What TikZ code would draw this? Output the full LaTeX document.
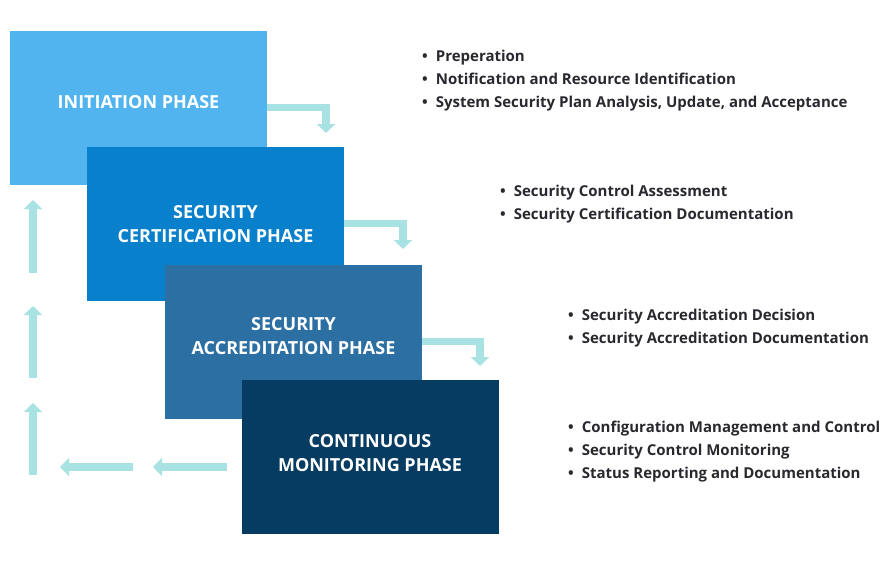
\documentclass[tikz,border=0pt]{standalone}
\usepackage{fontspec}
\setmainfont{Open Sans}
\usepackage{tikz}
\usetikzlibrary{calc}
\usetikzlibrary{positioning}
\usetikzlibrary{arrows.meta}
\definecolor{phaseA}{RGB}{82,180,238}
\definecolor{phaseB}{RGB}{8,128,204}
\definecolor{phaseC}{RGB}{44,111,163}
\definecolor{phaseD}{RGB}{6,60,98}
\definecolor{flowcol}{RGB}{168,226,226}
\definecolor{listcol}{RGB}{40,40,46}
\tikzset{phase/.style={rectangle, minimum width=257pt, minimum height=154pt, inner sep=0pt, text depth=12pt, text=white, align=center, font=\fontsize{18}{24}\selectfont\bfseries}}
\tikzset{items/.style={anchor=west, inner sep=0pt, align=left, text=listcol, font=\fontsize{15}{23}\selectfont\bfseries}}
\tikzset{flow/.style={draw=flowcol, line width=7.5pt, -{Triangle[width=18pt,length=9pt]}}}

\begin{document}
\begin{tikzpicture}[x=1pt, y=-1pt]
		\useasboundingbox (0,0) rectangle (891,562);
		\node[phase, fill=phaseA] (A) at (138.5,107.5) {INITIATION PHASE};
		\node[phase, fill=phaseB, text depth=0pt] (B) at (215.5,223.5) {SECURITY\\CERTIFICATION PHASE};
		\node[phase, fill=phaseC] (C) at (293.5,341.5) {SECURITY\\ACCREDITATION PHASE};
		\node[phase, fill=phaseD, text depth=8pt] (D) at (370,456.5) {CONTINUOUS\\MONITORING PHASE};
		\node[items] (E) at (422,81) {•\hspace{8pt}Preperation\\•\hspace{8pt}Notification and Resource Identification\\•\hspace{8pt}System Security Plan Analysis, Update, and Acceptance};
		\node[items] (F) at (500,204) {•\hspace{8pt}Security Control Assessment\\•\hspace{8pt}Security Certification Documentation};
		\node[items] (G) at (568,328) {•\hspace{8pt}Security Accreditation Decision\\•\hspace{8pt}Security Accreditation Documentation};
		\node[items] (H) at (568,451.5) {•\hspace{8pt}Configuration Management and Control\\•\hspace{8pt}Security Control Monitoring\\•\hspace{8pt}Status Reporting and Documentation};
		\coordinate (a1) at (326,133);
		\coordinate (b1) at (403,249);
		\coordinate (c1) at (480,366);
		\draw[flow] (A.east) -| (a1);
		\draw[flow] (B.east) -| (b1);
		\draw[flow] (C.east) -| (c1);
		% way back to the start
		\coordinate (r0) at (227,467);
		\coordinate (r1) at (153,467);
		\coordinate (r2) at (133,467);
		\coordinate (r3) at (60,467);
		\coordinate (u0) at (33,475);
		\coordinate (u1) at (33,403);
		\coordinate (u2) at (33,378);
		\coordinate (u3) at (33,306);
		\coordinate (u4) at (33,273);
		\coordinate (u5) at (33,200);
		\draw[flow] (r0) -- (r1);
		\draw[flow] (r2) -- (r3);
		\draw[flow] (u0) -- (u1);
		\draw[flow] (u2) -- (u3);
		\draw[flow] (u4) -- (u5);
	\end{tikzpicture}
\end{document}
